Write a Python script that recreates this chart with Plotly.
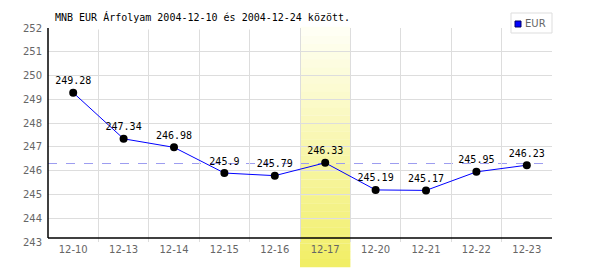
import plotly.graph_objects as go

dates = ["12-10", "12-13", "12-14", "12-15", "12-16", "12-17", "12-20", "12-21", "12-22", "12-23"]
eur = [249.28, 247.34, 246.98, 245.9, 245.79, 246.33, 245.19, 245.17, 245.95, 246.23]
labels = ["249.28", "247.34", "246.98", "245.9", "245.79", "246.33", "245.19", "245.17", "245.95", "246.23"]
highlight = "12-17"
ref_level = 246.3
y_ticks = [243, 244, 245, 246, 247, 248, 249, 250, 251, 252]
title = "MNB EUR Árfolyam 2004-12-10 és 2004-12-24 között."
series_name = "EUR"

fig = go.Figure()
fig.add_trace(go.Scatter(
    x=dates, y=eur, mode="lines+markers+text",
    text=labels, textposition="top center",
    textfont=dict(family="DejaVu Sans Mono", size=10, color="black"),
    line=dict(color="#0000ff", width=1),
    marker=dict(color="black", size=8),
    showlegend=False, cliponaxis=False,
))

hi = dates.index(highlight)
shapes = []
# white strip hiding the top gridline under the title
shapes.append(dict(type="line", xref="x", yref="y", x0=-0.5, x1=hi - 0.5,
                   y0=y_ticks[-1], y1=y_ticks[-1],
                   line=dict(color="white", width=3), layer="between"))
# gradient highlight band
n = 30
top_c = (255, 255, 246)
bot_c = (241, 238, 100)
y_top, y_bot = 1.0, -0.117
for i in range(n):
    t = (i + 0.5) / n
    c = tuple(int(round(top_c[k] + (bot_c[k] - top_c[k]) * t)) for k in range(3))
    shapes.append(dict(type="rect", xref="x", yref="paper",
                       x0=hi - 0.5, x1=hi + 0.5,
                       y0=y_top + (y_bot - y_top) * (i + 1) / n - 0.001,
                       y1=y_top + (y_bot - y_top) * i / n + (0.006 if i == 0 else 0),
                       fillcolor="rgb(%d,%d,%d)" % c, line=dict(width=0), layer="between"))
# reference dashed line
shapes.append(dict(type="line", xref="paper", yref="y", x0=0, x1=1, y0=ref_level, y1=ref_level,
                   line=dict(color="#9c9cf0", width=1, dash="dash"), layer="between"))
# axis lines
shapes.append(dict(type="line", xref="paper", yref="y", x0=0, x1=1, y0=243.17, y1=243.17,
                   line=dict(color="black", width=1.5), layer="above"))
shapes.append(dict(type="line", xref="paper", yref="y", x0=0, x1=0, y0=243.17, y1=252,
                   line=dict(color="black", width=1.5), layer="above"))
# legend box
shapes.append(dict(type="rect", xref="paper", yref="paper",
                   x0=(511 - 48) / 504, x1=1.0, y0=(242 - 33) / 214, y1=(242 - 13) / 214,
                   fillcolor="white", line=dict(color="#dddddd", width=1), layer="above"))
shapes.append(dict(type="rect", xref="paper", yref="paper",
                   x0=(515 - 48) / 504, x1=(521 - 48) / 504, y0=(242 - 27) / 214, y1=(242 - 21) / 214,
                   fillcolor="#0000ff", line=dict(color="#000066", width=1), layer="above"))

annotations = [
    dict(text=title, xref="paper", yref="paper", x=(53 - 48) / 504, y=(242 - 17) / 214,
         xanchor="left", yanchor="middle", showarrow=False,
         font=dict(family="DejaVu Sans Mono", size=10, color="black")),
    dict(text=series_name, xref="paper", yref="paper", x=(523 - 48) / 504, y=(242 - 23.5) / 214,
         xanchor="left", yanchor="middle", showarrow=False,
         font=dict(family="DejaVu Sans", size=10, color="#666666")),
]

fig.update_layout(
    width=600, height=270,
    margin=dict(l=48, r=48, t=28, b=28),
    paper_bgcolor="white", plot_bgcolor="white",
    shapes=shapes, annotations=annotations,
    xaxis=dict(type="category", tickson="boundaries", range=[-0.5, 9.5],
               showgrid=True, gridcolor="#dddddd", gridwidth=1,
               showline=False, zeroline=False, ticks="outside", ticklen=2,
               tickcolor="rgba(0,0,0,0)",
               tickfont=dict(family="DejaVu Sans", size=10, color="#666666")),
    yaxis=dict(range=[243, 252], tickvals=y_ticks, showgrid=True, gridcolor="#dddddd",
               gridwidth=1, showline=False, zeroline=False, ticks="outside", ticklen=3,
               tickcolor="rgba(0,0,0,0)",
               tickfont=dict(family="DejaVu Sans", size=10, color="#666666")),
)

fig.write_html("out.html")
